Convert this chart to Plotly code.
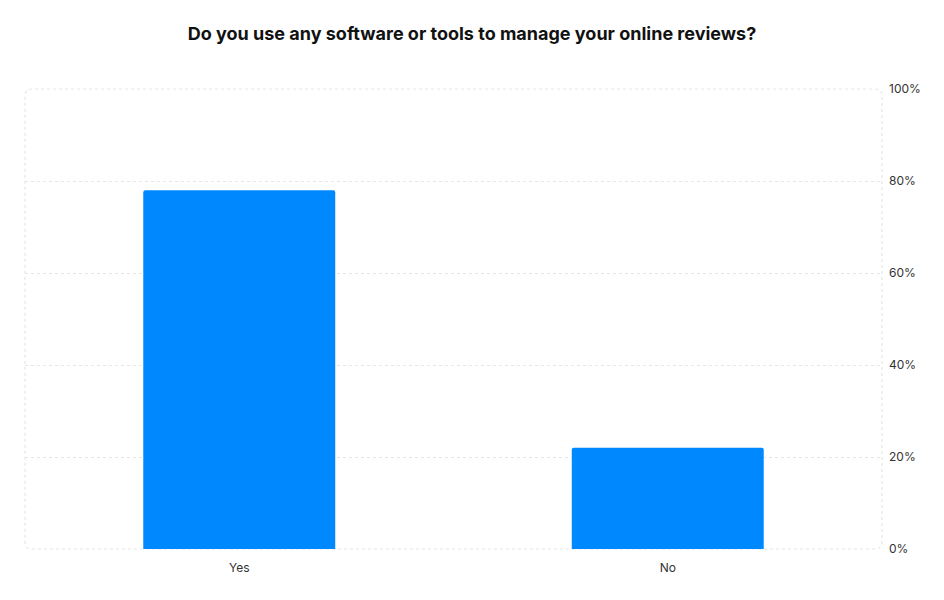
import plotly.graph_objects as go

# survey answers and their share of respondents
answers = ["Yes", "No"]
share_pct = [78, 22]
y_ticks = [0, 20, 40, 60, 80, 100]
y_tick_labels = ["0%", "20%", "40%", "60%", "80%", "100%"]

bar_color = "#0088FF"
grid_color = "#e6e6e6"

fig = go.Figure()
fig.add_trace(go.Bar(x=answers, y=share_pct, marker_color=bar_color,
                     marker_line_width=0, hoverinfo="x+y"))

# page body has an 8px margin, so the figure is sized to fit the window
fig_w, fig_h = 936, 592
ml, mr, mt, mb = 17, 62, 81, 51

# rounded dashed frame around the plot area
W, H = fig_w - ml - mr, fig_h - mt - mb
rx, ry = 7 / W, 7 / H
frame = (f"M {rx} 0 L {1-rx} 0 Q 1 0 1 {ry} L 1 {1-ry} Q 1 1 {1-rx} 1 "
         f"L {rx} 1 Q 0 1 0 {1-ry} L 0 {ry} Q 0 0 {rx} 0 Z")
fig.add_shape(type="path", path=frame, xref="paper", yref="paper",
              line=dict(color=grid_color, width=1.2, dash="dot"), layer="below")

fig.update_layout(
    width=fig_w, height=fig_h,
    margin=dict(l=ml, r=mr, t=mt, b=mb),
    paper_bgcolor="white", plot_bgcolor="white",
    font=dict(family="Inter", size=12, color="#333333"),
    title=dict(text="<b>Do you use any software or tools to manage your online reviews?</b>",
               x=0.5 - 4 / fig_w, xanchor="center", y=1 - 26 / fig_h, yanchor="middle",
               font=dict(size=18, color="#111111")),
    bargap=0.552,
    barcornerradius=2,
    showlegend=False,
)
fig.update_xaxes(showgrid=False, showline=False, ticks="", zeroline=False,
                 ticklabelstandoff=10,
                 tickfont=dict(size=12, color="#333333"))
fig.update_yaxes(side="right", range=[0, 100], tickvals=y_ticks, ticktext=y_tick_labels,
                 showgrid=True, gridcolor=grid_color, griddash="dot", gridwidth=1,
                 zeroline=False, showline=False, ticks="", ticklabelstandoff=6,
                 tickfont=dict(size=12, color="#333333"))

fig.write_html("out.html")
